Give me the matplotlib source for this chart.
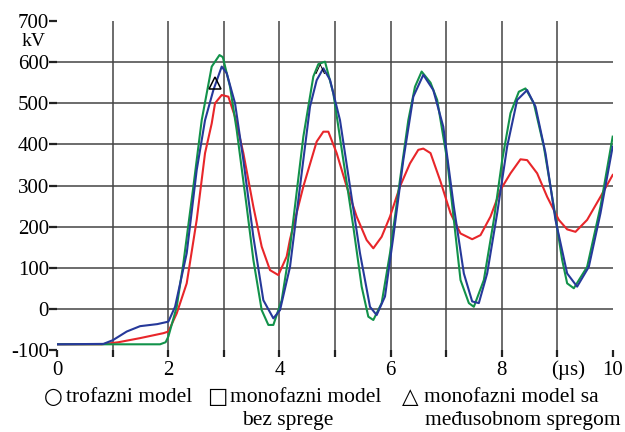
import matplotlib
matplotlib.use("Agg")
import matplotlib.pyplot as plt

plt.rcParams['font.family'] = ['Liberation Serif', 'DejaVu Sans']

# time (us) and voltage (kV) samples for the three models
t_red = [0, 0.8, 1.1, 1.49, 1.91, 2.0, 2.15, 2.33, 2.51, 2.66, 2.78, 2.84, 2.96, 3.08,
         3.2, 3.35, 3.53, 3.68, 3.83, 3.98, 4.13, 4.19, 4.43, 4.67, 4.79, 4.88, 5.03,
         5.21, 5.39, 5.57, 5.69, 5.84, 5.99, 6.17, 6.35, 6.5, 6.59, 6.72, 6.9, 7.08,
         7.26, 7.47, 7.62, 7.8, 7.98, 8.16, 8.34, 8.46, 8.64, 8.82, 9.03, 9.18, 9.33,
         9.54, 9.78, 10.0]
v_red = [-85, -85, -80, -70, -58, -54, -10, 63, 217, 379, 451, 500, 520, 516,
         467, 379, 249, 152, 95, 83, 128, 170, 298, 407, 431, 431, 379,
         298, 225, 168, 148, 176, 225, 298, 354, 387, 390, 379, 310, 233,
         184, 170, 180, 225, 290, 330, 364, 362, 330, 273, 217, 194, 188,
         217, 273, 326]

t_blue = [0, 0.83, 1.0, 1.25, 1.49, 1.8, 2.0, 2.12, 2.33, 2.51, 2.66, 2.81, 2.96, 3.05,
          3.2, 3.35, 3.53, 3.71, 3.89, 4.01, 4.19, 4.37, 4.55, 4.67, 4.79, 4.91, 5.09,
          5.27, 5.45, 5.63, 5.75, 5.9, 6.05, 6.23, 6.41, 6.59, 6.77, 6.95, 7.14, 7.32,
          7.47, 7.59, 7.74, 7.92, 8.1, 8.28, 8.46, 8.61, 8.79, 8.97, 9.18, 9.36, 9.57,
          9.78, 10.0]
v_blue = [-85, -84, -75, -54, -41, -36, -30, 6, 136, 338, 459, 532, 589, 573,
          500, 362, 176, 22, -22, -2, 103, 298, 492, 556, 585, 557, 459,
          298, 136, 6, -14, 31, 176, 362, 516, 569, 532, 443, 249, 87,
          19, 15, 87, 233, 395, 508, 532, 492, 379, 217, 87, 55, 103,
          233, 395]

t_green = [0, 1.85, 1.95, 2.0, 2.15, 2.27, 2.45, 2.6, 2.78, 2.92, 2.98, 3.11, 3.23, 3.41,
           3.53, 3.68, 3.8, 3.89, 4.04, 4.19, 4.43, 4.61, 4.7, 4.82, 4.97, 5.15, 5.33,
           5.48, 5.6, 5.69, 5.84, 5.99, 6.17, 6.32, 6.44, 6.56, 6.72, 6.84, 7.02, 7.14,
           7.26, 7.41, 7.5, 7.68, 7.86, 8.01, 8.16, 8.31, 8.43, 8.58, 8.76, 8.94, 9.09,
           9.18, 9.3, 9.54, 9.78, 10.0]
v_green = [-85, -85, -80, -66, 6, 112, 298, 459, 589, 617, 612, 540, 435, 249,
           120, -2, -38, -38, 22, 150, 419, 565, 595, 601, 524, 362, 200,
           55, -18, -26, 15, 136, 314, 459, 540, 577, 550, 508, 362, 217,
           71, 15, 6, 71, 217, 362, 476, 528, 536, 500, 395, 249, 120,
           63, 51, 103, 249, 419]

x_ticks = list(range(0, 11))
x_labels = ['0', '', '2', '', '4', '', '6', '', '8', '', '10']
y_ticks = list(range(-100, 701, 100))

fig = plt.figure(figsize=(6.25, 4.32), dpi=100)
ax = fig.add_axes([0.0917, 0.1887, 0.8886, 0.763])

ax.plot(t_red, v_red, color='#e8262a', lw=1.5, zorder=3)
ax.plot(t_green, v_green, color='#12924a', lw=1.5, zorder=3)
ax.plot(t_blue, v_blue, color='#26399a', lw=1.5, zorder=4)

# trace markers near the first two peaks
ax.plot([2.84], [549], marker='^', ms=8, mfc='none', mec='black', mew=1.1, zorder=5)
ax.text(4.73, 572, '^', ha='center', va='center', fontsize=16, zorder=5)

ax.set_xlim(0, 10)
ax.set_ylim(-100, 700)
ax.set_xticks(x_ticks)
ax.set_xticklabels(x_labels)
ax.set_yticks(y_ticks)
ax.set_yticklabels([str(v) for v in y_ticks])

ax.grid(True, color='#444444', lw=1.1)
ax.set_axisbelow(True)
# no grid on the outer ticks
ax.xaxis.get_gridlines()[0].set_visible(False)
ax.xaxis.get_gridlines()[-1].set_visible(False)
ax.yaxis.get_gridlines()[0].set_visible(False)
ax.yaxis.get_gridlines()[-1].set_visible(False)

for s in ax.spines.values():
    s.set_visible(False)

ax.tick_params(axis='x', direction='out', length=5, width=1.6, pad=2.5,
               labelsize=15, color='#222222')
ax.tick_params(axis='y', direction='out', length=5.5, width=1.6, pad=0.5,
               labelsize=15, color='#222222')

fig.text(22 / 625, 1 - 42 / 432, 'kV', fontsize=14, ha='left', va='center')
fig.text(568 / 625, 1 - 370 / 432, '(\u00b5s)', fontsize=15, ha='center', va='center')

# legend: symbol and label drawn separately so the symbols get their own size
leg_y1 = 1 - 398 / 432
leg_y2 = 1 - 420 / 432
sym_y = 1 - 397 / 432
sym_kw = dict(fontsize=15.5, va='center', ha='center', family='DejaVu Sans')
fig.text(53 / 625, sym_y, '\u25cb', **sym_kw)
fig.text(217 / 625, sym_y, '\u25a1', **sym_kw)
fig.text(410 / 625, sym_y, '\u25b3', **sym_kw)
fig.text(66 / 625, leg_y1, 'trofazni model', fontsize=15.5, va='center')
fig.text(230 / 625, leg_y1, 'monofazni model', fontsize=15.5, va='center')
fig.text(242 / 625, leg_y2, 'bez sprege', fontsize=15.5, va='center')
fig.text(424 / 625, leg_y1, 'monofazni model sa', fontsize=15.5, va='center')
fig.text(425 / 625, leg_y2, 'me\u0111usobnom spregom', fontsize=15.5, va='center')

fig.savefig('out.png', dpi=100)
